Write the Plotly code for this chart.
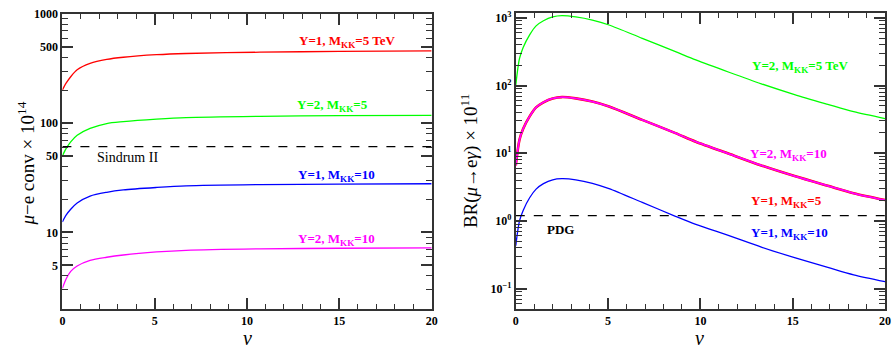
import plotly.graph_objects as go

# ---------------- data ----------------
nu_left = [0, 0.2, 0.45, 0.8, 1.5, 2.4, 3.3, 5.1, 6.7, 10.7, 15, 20]
conv_y1_m5 = [201, 232, 266, 308, 352, 383, 401, 423, 434, 446, 453, 458]
conv_y2_m5 = [50.4, 58.5, 67.5, 77.5, 89.5, 99.2, 103.2, 108.8, 112.5, 115.5, 117, 118]
conv_y1_m10 = [12.5, 14.4, 16.3, 18.6, 21.5, 23.3, 24.5, 25.8, 26.7, 27.4, 27.7, 27.9]
conv_y2_m10 = [3.08, 3.75, 4.4, 4.93, 5.55, 5.93, 6.22, 6.63, 6.87, 7.08, 7.17, 7.24]
sindrum_limit = 61

nu_right = [0, 0.2, 0.4, 0.75, 1.1, 1.5, 2.0, 2.5, 3.25, 4.15, 5.05, 6.85, 8.65,
            9.75, 11.55, 13.3, 15.1, 16.9, 18.3, 20]
br_y2_m5 = [102, 250, 365, 560, 760, 905, 1030, 1075, 1030, 925, 783, 498, 317,
            239, 157, 106, 73.5, 52.7, 41, 32.5]
br_y2_m10 = [6.6, 15.8, 23, 35, 47.5, 56.5, 64.5, 67.5, 64.5, 58, 49, 31.1, 19.8,
             14.8, 9.8, 6.6, 4.6, 3.3, 2.56, 2.03]
br_y1_m5 = list(br_y2_m10)
br_y1_m10 = [0.43, 1.0, 1.43, 2.2, 2.95, 3.55, 4.05, 4.2, 4.05, 3.6, 3.0, 1.88, 1.17,
             0.89, 0.605, 0.41, 0.287, 0.206, 0.16, 0.127]
pdg_limit = 1.2

x_major = [0, 5, 10, 15, 20]
x_minor = [v for v in range(0, 21) if v % 5 != 0]
left_major = [5, 10, 50, 100, 500, 1000]
left_minor = [2, 3, 4, 6, 7, 8, 9, 20, 30, 40, 60, 70, 80, 90, 200, 300, 400, 600, 700, 800, 900]
right_major = [0.1, 1, 10, 100, 1000]
right_major_text = ["10<sup>−1</sup>", "10<sup>0</sup>", "10<sup>1</sup>", "10<sup>2</sup>", "10<sup>3</sup>"]
right_minor = [0.05, 0.06, 0.07, 0.08, 0.09] + [m * d for d in (0.1, 1, 10, 100) for m in range(2, 10)]

RED, GREEN, BLUE, MAG = "#ff0000", "#00ff00", "#0000ff", "#ff00ff"
SERIF = "Liberation Serif"

fig = go.Figure()

def line(x, y, color, xa, ya, width=1.3, dash=None):
    fig.add_trace(go.Scatter(x=x, y=y, mode="lines", xaxis=xa, yaxis=ya,
                             line=dict(color=color, width=width, dash=dash, shape="spline", smoothing=0.8),
                             showlegend=False, hoverinfo="skip"))

line(nu_left, conv_y1_m5, RED, "x", "y")
line(nu_left, conv_y2_m5, GREEN, "x", "y")
line(nu_left, conv_y1_m10, BLUE, "x", "y")
line(nu_left, conv_y2_m10, MAG, "x", "y")
line([0, 20], [sindrum_limit, sindrum_limit], "black", "x", "y", width=1.2, dash="dash")

line(nu_right, br_y2_m5, GREEN, "x2", "y2")
line(nu_right, br_y1_m5, RED, "x2", "y2", width=2.6)
line(nu_right, br_y2_m10, MAG, "x2", "y2", width=1.8)
line(nu_right, br_y1_m10, BLUE, "x2", "y2")
line([0, 20], [pdg_limit, pdg_limit], "black", "x2", "y2", width=1.2, dash="dash")

W, H = 894, 351
def fx(px): return px / W
def fy(py): return 1 - py / H

tickfont = dict(family=SERIF, size=12, color="black", weight="bold")
axcommon = dict(showgrid=False, zeroline=False, showline=True, linecolor="#333333", linewidth=2,
                mirror="ticks", ticks="inside", tickcolor="#333333", tickwidth=1.5, tickfont=tickfont)

xax = dict(axcommon, range=[0, 20], tickvals=x_major, ticklen=11,
           minor=dict(tickvals=x_minor, ticks="inside", ticklen=5, tickcolor="#333333", tickwidth=1.2))

fig.update_layout(
    width=W, height=H, margin=dict(l=0, r=0, t=0, b=0),
    paper_bgcolor="white", plot_bgcolor="white",
    xaxis=dict(xax, domain=[fx(60), fx(433)], anchor="y"),
    yaxis=dict(axcommon, type="log", range=[0.3010, 3.0], domain=[fy(308), fy(7)], anchor="x",
               tickvals=left_major, ticktext=[str(v) for v in left_major], ticklen=11,
               minor=dict(tickvals=left_minor, ticks="inside", ticklen=6, tickcolor="#333333", tickwidth=1.2)),
    xaxis2=dict(xax, domain=[fx(518), fx(891)], anchor="y2"),
    yaxis2=dict(axcommon, type="log", range=[-1.299, 3.073], domain=[fy(308), fy(6)], anchor="x2",
                tickvals=right_major, ticktext=right_major_text, ticklen=11,
                minor=dict(tickvals=right_minor, ticks="inside", ticklen=6, tickcolor="#333333", tickwidth=1.2)),
)

def label(px, py, text, color, size=13, bold=True, angle=0, family=SERIF):
    fig.add_annotation(x=fx(px), y=fy(py), xref="paper", yref="paper", text=text, showarrow=False,
                       font=dict(family=family, size=size, color=color, weight="bold" if bold else "normal"),
                       xanchor="center", yanchor="middle", textangle=angle)

MKK = "M<sub>KK</sub>"
label(348, 35, f"Y=1, {MKK}=5 TeV", RED)
label(333, 100, f"Y=2, {MKK}=5", GREEN)
label(126, 154, "Sindrum II", "black", size=14, bold=False)
label(337, 172, f"Y=1, {MKK}=10", BLUE)
label(337, 237, f"Y=2, {MKK}=10", MAG)

label(805, 61, f"Y=2, {MKK}=5 TeV", GREEN)
label(793, 150, f"Y=2, {MKK}=10", MAG)
label(791, 198, f"Y=1, {MKK}=5", RED)
label(795, 231, f"Y=1, {MKK}=10", BLUE)
label(563, 227, "PDG", "black", size=13)

label(247, 338, "<i>ν</i>", "black", size=20, bold=False)
label(704, 338, "<i>ν</i>", "black", size=20, bold=False)
label(23, 160, "<i>μ</i>−e conv × 10<sup>14</sup>", "black", size=19, bold=False, angle=-90)
label(472, 157, "BR(<i>μ</i>→e<i>γ</i>) × 10<sup>11</sup>", "black", size=19, bold=False, angle=-90)

fig.write_html("out.html")
